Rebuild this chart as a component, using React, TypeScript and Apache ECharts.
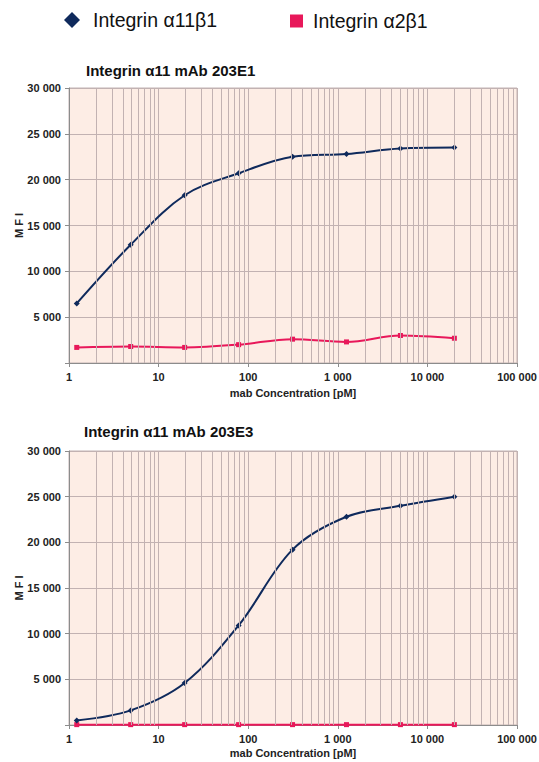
import React, { useEffect, useRef } from "react";
import * as echarts from "echarts";

const concentrations = [1.22, 4.88, 19.53, 78.13, 312.5, 1250, 5000, 20000];
const e1Alpha11 = [6500, 12900, 18300, 20700, 22500, 22800, 23400, 23500];
const e1Alpha2 = [1700, 1800, 1700, 2000, 2600, 2300, 3000, 2700];
const e3Alpha11 = [500, 1600, 4600, 10900, 19200, 22800, 24000, 25000];
const e3Alpha2 = [40, 40, 40, 40, 40, 40, 40, 40];
const minorGridValues = [
  2, 3, 4, 5, 6, 7, 8, 9,
  20, 30, 40, 50, 60, 70, 80, 90,
  200, 300, 400, 500, 600, 700, 800, 900,
  2000, 3000, 4000, 5000, 6000, 7000, 8000, 9000,
  20000, 30000, 40000, 50000, 60000, 70000, 80000, 90000,
];
const titles = ["Integrin \u03b111 mAb 203E1", "Integrin \u03b111 mAb 203E3"];
const seriesNames = ["Integrin \u03b111\u03b21", "Integrin \u03b12\u03b21"];
const xAxisName = "mab Concentration [pM]";
const yAxisName = "M F I";

const FONT = "'Liberation Sans', Arial, sans-serif";
const BLUE = "#0f2a5c";
const PINK = "#e8185a";
const GRIDC = "#c2b2b2";
const AXISC = "#8c8c8c";

const fmt = (v: number) => {
  if (v === 0) return "";
  return String(Math.round(v)).replace(/\B(?=(\d{3})+(?!\d))/g, " ");
};

export default function App() {
  const ref = useRef<HTMLDivElement>(null);
  useEffect(() => {
    if (!ref.current) return;
    const chart = echarts.init(ref.current, undefined, { renderer: "svg" });
    const gridBoxes = [
      { top: 88, height: 275, nameGap: 24 },
      { top: 451, height: 274, nameGap: 22 },
    ];
    const grids = gridBoxes.map((g) => ({
      left: 69,
      right: 22,
      top: g.top,
      height: g.height,
      containLabel: false,
      outerBoundsMode: "none",
      show: true,
      backgroundColor: "#fdede5",
      borderColor: GRIDC,
      borderWidth: 1,
    }));
    const labelStyle = { fontFamily: FONT, fontSize: 11, fontWeight: "bold", color: "#222" };
    const xAxes = [0, 1].map((i) => ({
      type: "log",
      logBase: 10,
      gridIndex: i,
      min: 1,
      max: 100000,
      name: xAxisName,
      nameLocation: "middle",
      nameGap: gridBoxes[i].nameGap,
      nameMoveOverlap: false,
      nameTextStyle: labelStyle,
      axisLine: { show: true, lineStyle: { color: AXISC, width: 1 } },
      axisTick: { show: true, length: 4, lineStyle: { color: AXISC } },
      axisLabel: { ...labelStyle, margin: 8, formatter: (v: number) => fmt(v) },
      splitLine: { show: true, lineStyle: { color: GRIDC, width: 1 } },
    }));
    const yAxes = [0, 1].map((i) => ({
      type: "value",
      gridIndex: i,
      min: 0,
      max: 30000,
      interval: 5000,
      name: yAxisName,
      nameLocation: "middle",
      nameGap: 45,
      nameMoveOverlap: false,
      nameTextStyle: labelStyle,
      axisLine: { show: true, lineStyle: { color: AXISC, width: 1 } },
      axisTick: { show: true, length: 4, lineStyle: { color: AXISC } },
      axisLabel: { ...labelStyle, margin: 8, formatter: (v: number) => fmt(v) },
      splitLine: { show: true, lineStyle: { color: GRIDC, width: 1 } },
    }));
    const pairs = (ys: number[]) => concentrations.map((c, i) => [c, ys[i]]);
    const minorSeries = [0, 1].map((i) => ({
      type: "line",
      name: "minor" + i,
      xAxisIndex: i,
      yAxisIndex: i,
      data: [],
      z: 1,
      silent: true,
      markLine: {
        silent: true,
        symbol: ["none", "none"],
        label: { show: false },
        lineStyle: { color: GRIDC, width: 1, type: "solid" },
        emphasis: { disabled: true },
        data: minorGridValues.map((v) => ({ xAxis: v })),
      },
    }));
    const dataSeries = [
      [e1Alpha11, e1Alpha2],
      [e3Alpha11, e3Alpha2],
    ].flatMap(([a11, a2], i) => [
      {
        type: "line",
        name: seriesNames[0],
        xAxisIndex: i,
        yAxisIndex: i,
        data: pairs(a11),
        smooth: 0.35,
        symbol: "diamond",
        symbolSize: 6,
        z: 4,
        lineStyle: { color: BLUE, width: 2 },
        itemStyle: { color: BLUE },
      },
      {
        type: "line",
        name: seriesNames[1],
        xAxisIndex: i,
        yAxisIndex: i,
        data: pairs(a2),
        smooth: 0.35,
        symbol: "rect",
        symbolSize: 5,
        z: 3,
        lineStyle: { color: PINK, width: 2 },
        itemStyle: { color: PINK },
      },
    ]);
    chart.setOption({
      animation: false,
      title: [
        { text: titles[0], left: 86, top: 63 },
        { text: titles[1], left: 84, top: 424 },
      ].map((t) => ({
        ...t,
        padding: 0,
        textStyle: { fontFamily: FONT, fontSize: 15, fontWeight: "bold", color: "#111" },
      })),
      legend: [
        {
          data: [{ name: seriesNames[0], icon: "diamond" }],
          left: 64,
          top: 10,
          itemWidth: 16,
          itemHeight: 16,
          textPad: 8,
        },
        {
          data: [{ name: seriesNames[1], icon: "rect" }],
          left: 290,
          top: 11,
          itemWidth: 13,
          itemHeight: 13,
          textPad: 5,
        },
      ].map(({ textPad, ...l }) => ({
        ...l,
        padding: 0,
        selectedMode: false,
        textStyle: {
          fontFamily: FONT,
          fontSize: 19.5,
          color: "#111",
          padding: [0, 0, 0, textPad],
        },
      })),
      grid: grids,
      xAxis: xAxes,
      yAxis: yAxes,
      series: [...minorSeries, ...dataSeries],
    });
    return () => chart.dispose();
  }, []);
  return (
    <div
      ref={ref}
      style={{ position: "absolute", left: 0, top: 0, width: 539, height: 762, background: "#fff" }}
    />
  );
}
